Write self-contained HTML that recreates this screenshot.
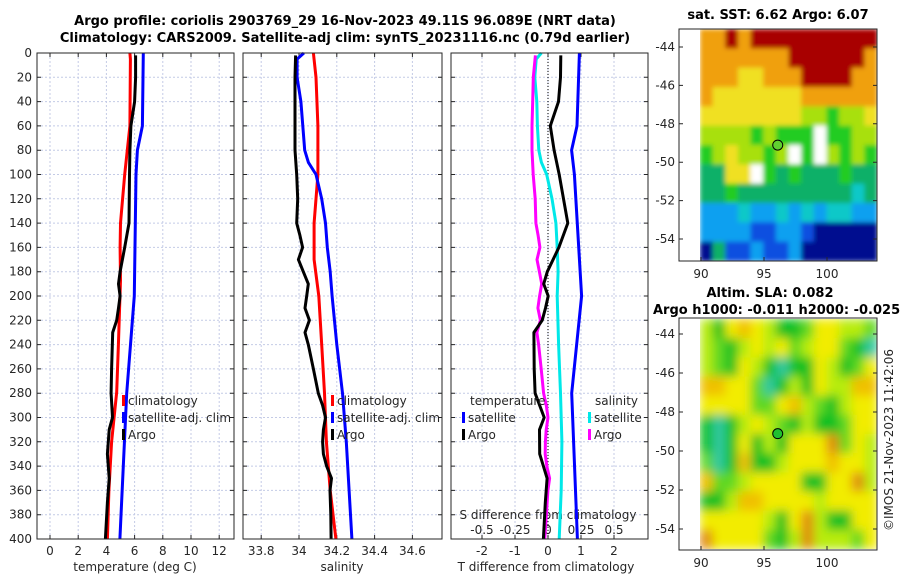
<!DOCTYPE html>
<html><head><meta charset="utf-8">
<style>
body{margin:0;background:#fff;}
svg{display:block;font-family:"DejaVu Sans","Liberation Sans",sans-serif;}
.t{font-size:12px;fill:#262626;}
.b{font-size:13px;font-weight:bold;fill:#000;}
</style></head>
<body>
<svg id="fig" width="900" height="580" viewBox="0 0 900 580">
<defs>
<filter id="blurS" x="0" y="0" width="1" height="1"><feGaussianBlur stdDeviation="2.5" edgeMode="duplicate"/></filter>
<filter id="blurA" x="0" y="0" width="1" height="1"><feGaussianBlur stdDeviation="5" edgeMode="duplicate"/></filter>
<clipPath id="clipS"><rect x="700" y="29" width="177" height="232"/></clipPath>
<clipPath id="clipA"><rect x="700" y="319" width="177" height="230"/></clipPath>
</defs>
<text class="b" x="345" y="25" text-anchor="middle">Argo profile: coriolis 2903769_29 16-Nov-2023 49.11S 96.089E (NRT data)</text>
<text class="b" x="345" y="42" text-anchor="middle">Climatology: CARS2009. Satellite-adj clim: synTS_20231116.nc (0.79d earlier)</text>
<text class="b" x="778" y="19" text-anchor="middle">sat. SST: 6.62 Argo: 6.07</text>
<text class="b" x="770" y="297" text-anchor="middle">Altim. SLA: 0.082</text>
<text class="b" x="653" y="314">Argo h1000: -0.011 h2000: -0.025</text>
<text class="t" transform="translate(893,440) rotate(-90)" text-anchor="middle">©IMOS 21-Nov-2023 11:42:06</text>
<g clip-path="url(#clipS)"><g id="sstg" filter="url(#blurS)"></g></g>
<g clip-path="url(#clipA)"><g id="slag" filter="url(#blurA)"></g></g>
<g id="g"></g>
</svg>
<script>
// ---- profile data ----
const tClimDepth=[0,5,60,100,140,160,187,240,279,320,360,400];
const tClim=[5.67,5.7,5.67,5.3,5.0,4.97,5.0,4.85,4.73,4.37,4.18,4.07];
const tSatDepth=[0,60,80,100,200,280,400];
const tSat=[6.62,6.55,6.2,6.1,5.98,5.44,4.96];
const tArgoDepth=[2,20,40,60,80,100,140,160,180,190,200,210,220,230,260,280,300,310,330,350,370,400];
const tArgo=[6.07,6.07,6.0,5.74,5.67,5.64,5.6,5.3,4.97,4.86,4.97,4.86,4.73,4.45,4.37,4.33,4.43,4.2,4.07,4.2,4.07,3.93];
const sClimDepth=[0,20,60,100,140,170,200,240,280,320,360,400];
const sClim=[34.076,34.09,34.1,34.1,34.08,34.08,34.105,34.12,34.135,34.145,34.165,34.195];
const sSatDepth=[0,5,20,40,60,80,90,100,120,140,160,180,200,240,280,320,360,400];
const sSat=[34.026,33.99,33.99,34.01,34.02,34.03,34.05,34.09,34.12,34.14,34.15,34.165,34.175,34.2,34.23,34.25,34.265,34.28];
const sArgoDepth=[2,20,40,60,80,100,120,140,150,160,170,180,190,200,210,220,230,240,260,280,290,300,310,320,330,340,350,360,380,400];
const sArgo=[33.982,33.979,33.979,33.979,33.979,33.988,33.993,33.988,34.005,34.019,33.997,34.023,34.049,34.041,34.032,34.055,34.032,34.049,34.076,34.102,34.125,34.14,34.129,34.125,34.129,34.146,34.172,34.164,34.168,34.17];
const depthTicks=[0,20,40,60,80,100,120,140,160,180,200,220,240,260,280,300,320,340,360,380,400];
const tTicks=[0,2,4,6,8,10,12];
const sTicks=[33.8,34,34.2,34.4,34.6];
const dTTicks=[-2,-1,0,1,2];
const dSTicks=[-0.5,-0.25,0,0.25,0.5];
const dSTickLabels=["-0.5","-0.25","0","0.25","0.5"];
// ---- map data (SST colour class 0-9; SLA class 0-6) ----
const sstRows=["88989999999999","88888889999998","88877888999988","87777777888888","77777777665667","66665655505566","56766560556565","44774545444544","44544444444434","22232232323322","22221122100000","04112112000000"];
const sstMissing=[[5,9],[6,7],[6,9],[7,4]];
const slaRows=["31454311244332","32134342344210","32143101143124","55442013143355","44442245321344","10134321311244","10141314446243","20151134445443","52234444114463","11355444434444","44444314631144","64444213633324"];
const floatLon=96.089, floatLat=-49.11;
const lonTicks=[90,95,100];
const latTicks=[-44,-46,-48,-50,-52,-54];

// ---- axis functions ----
const yD=d=>53+d*1.215;
const xT=v=>50+14.1*v;
const xS=s=>299+189*(s-34);
const xDT=v=>548+33*v;
const xDS=v=>548+132*v;
const xLon=l=>701+12.6*(l-90);
const ySST=l=>47+19.2*(-44-l);
const ySLA=l=>334+19.5*(-44-l);

const NS="http://www.w3.org/2000/svg";
const G=document.getElementById('g');
function mk(tag,at,parent){const e=document.createElementNS(NS,tag);for(const k in at)e.setAttribute(k,at[k]);(parent||G).appendChild(e);return e;}
function interp(ds,vs,d){if(d<=ds[0])return vs[0];for(let i=1;i<ds.length;i++){if(d<=ds[i]){const f=(d-ds[i-1])/(ds[i]-ds[i-1]);return vs[i-1]+f*(vs[i]-vs[i-1]);}}return vs[vs.length-1];}

const panels=[{x0:37,x1:234,name:'temperature'},{x0:243,x1:442,name:'salinity'},{x0:451,x1:648,name:'difference'}];
const Y0=53,Y1=539;
panels.forEach((p,pi)=>{
  let grid;
  if(pi==0)grid=tTicks.map(xT);else if(pi==1)grid=sTicks.map(xS);else grid=dTTicks.map(xDT);
  grid.forEach(x=>{const l=mk('line',{x1:x,x2:x,y1:Y0,y2:Y1,stroke:'#c4cbe6','stroke-width':1,'stroke-dasharray':'2,2'});
    
    });
  depthTicks.forEach(d=>{const y=yD(d);
    const l=mk('line',{x1:p.x0,x2:p.x1,y1:y,y2:y,stroke:'#c4cbe6','stroke-width':1,'stroke-dasharray':'2,2'});
    
    
    const a=mk('path',{d:`M${p.x0},${y}h4M${p.x1},${y}h-4`,stroke:'#262626','stroke-width':1});
    
    
  });
  grid.forEach(x=>{const a=mk('path',{d:`M${x},${Y1}v-4M${x},${Y0}v4`,stroke:'#262626','stroke-width':1});
    
    });
});
depthTicks.forEach(d=>{const t=mk('text',{x:32,y:yD(d)+4,'text-anchor':'end',class:'t'});t.textContent=d;
  
  });
tTicks.forEach(v=>{const t=mk('text',{x:xT(v),y:555,'text-anchor':'middle',class:'t'});t.textContent=v;
  
  });
sTicks.forEach(v=>{const t=mk('text',{x:xS(v),y:555,'text-anchor':'middle',class:'t'});t.textContent=String(v);
  
  });
dTTicks.forEach(v=>{const t=mk('text',{x:xDT(v),y:555,'text-anchor':'middle',class:'t'});t.textContent=String(v);
  
  });
dSTicks.forEach((v,i)=>{const t=mk('text',{x:xDS(v),y:534,'text-anchor':'middle',class:'t'});t.textContent=dSTickLabels[i];
  
  });
[['temperature (deg C)',135,'temperature-axis-title'],['salinity',342,'salinity-axis-title'],['T difference from climatology',546,'t-diff-axis-title']].forEach(a=>{
  const t=mk('text',{x:a[1],y:571,'text-anchor':'middle',class:'t'});t.textContent=a[0];
  
  });
{const t=mk('text',{x:548,y:519,'text-anchor':'middle',class:'t'});t.textContent='S difference from climatology';
  
  }
{const l=mk('line',{x1:xDT(0),x2:xDT(0),y1:Y0,y2:Y1,stroke:'#000','stroke-width':1,'stroke-dasharray':'1,2'});
  
  }

function series(ds,vs,xf,color,name){
  const pts=ds.map((d,i)=>xf(vs[i]).toFixed(1)+','+yD(d).toFixed(1)).join(' ');
  const l=mk('polyline',{points:pts,fill:'none',stroke:color,'stroke-width':3,'stroke-linejoin':'round'});
  
  
}
series(tClimDepth,tClim,xT,'#f00','temperature-climatology-line');
series(tSatDepth,tSat,xT,'#00f','temperature-satellite-line');
series(tArgoDepth,tArgo,xT,'#000','temperature-argo-line');
series(sClimDepth,sClim,xS,'#f00','salinity-climatology-line');
series(sSatDepth,sSat,xS,'#00f','salinity-satellite-line');
series(sArgoDepth,sArgo,xS,'#000','salinity-argo-line');
series(sSatDepth,sSat.map((v,i)=>v-interp(sClimDepth,sClim,sSatDepth[i])),xDS,'#00e8e8','s-diff-satellite-line');
series(tSatDepth,tSat.map((v,i)=>v-interp(tClimDepth,tClim,tSatDepth[i])),xDT,'#00f','t-diff-satellite-line');
series(sArgoDepth,sArgo.map((v,i)=>v-interp(sClimDepth,sClim,sArgoDepth[i])),xDS,'#f0f','s-diff-argo-line');
series(tArgoDepth,tArgo.map((v,i)=>v-interp(tClimDepth,tClim,tArgoDepth[i])),xDT,'#000','t-diff-argo-line');

panels.forEach(p=>{const r=mk('rect',{x:p.x0,y:Y0,width:p.x1-p.x0,height:Y1-Y0,fill:'none',stroke:'#262626','stroke-width':1});
  
  });

function legend(x,y,color,label,name){
  const r=mk('rect',{x:x,y:y-10,width:3,height:11,fill:color});
  
  
  const t=mk('text',{x:x+6,y:y,class:'t'});t.textContent=label;
  
  
}
legend(122,405,'#f00','climatology','legend-temp-climatology');
legend(122,422,'#00f','satellite-adj. clim','legend-temp-satellite');
legend(122,439,'#000','Argo','legend-temp-argo');
legend(331,405,'#f00','climatology','legend-sal-climatology');
legend(331,422,'#00f','satellite-adj. clim','legend-sal-satellite');
legend(331,439,'#000','Argo','legend-sal-argo');
{const t=mk('text',{x:470,y:405,class:'t'});t.textContent='temperature';
  
  
 const t2=mk('text',{x:595,y:405,class:'t'});t2.textContent='salinity';
  
  }
legend(462,422,'#00f','satellite','legend-tdiff-satellite');
legend(462,439,'#000','Argo','legend-tdiff-argo');
legend(588,422,'#00e8e8','satellite','legend-sdiff-satellite');
legend(588,439,'#f0f','Argo','legend-sdiff-argo');

// maps
const sstPal=['#00108f','#1050e0','#10a0f0','#10c8c8','#10b068','#20cc20','#a8e010','#f0e020','#f0a010','#a80000'];
const slaPal=['#30c8a0','#10c020','#60d820','#b8ec10','#f2ec00','#f0c000','#e08a10'];
function drawMap(rows,pal,top,bottom,name,missing,parent){
  const nr=rows.length,nc=rows[0].length,cw=(877-700)/nc,rh=(bottom-top)/nr;
  rows.forEach((row,r)=>{for(let c=0;c<nc;c++){
    let col=pal[+row[c]];
    if(missing&&missing.some(m=>m[0]==r&&m[1]==c))col='#fff';
    const e=mk('rect',{x:(700+c*cw).toFixed(2),y:(top+r*rh).toFixed(2),width:(cw+0.6).toFixed(2),height:(rh+0.6).toFixed(2),fill:col},parent);
    
    
  }});
}
drawMap(sstRows,sstPal,29,261,'sst-map',sstMissing,document.getElementById('sstg'));
drawMap(slaRows,slaPal,319,549,'sla-map',null,document.getElementById('slag'));
[[ySST,29,261,'sst-map'],[ySLA,318,550,'sla-map']].forEach(m=>{
  const yf=m[0];
  const fr=mk('rect',{x:679,y:m[1],width:198,height:m[2]-m[1],fill:'none',stroke:'#262626','stroke-width':1});
  
  
  latTicks.forEach(l=>{const y=yf(l);
    const a=mk('path',{d:`M679,${y}h4M877,${y}h-4`,stroke:'#262626'});
    
    
    const t=mk('text',{x:675,y:y+4,'text-anchor':'end',class:'t'});t.textContent=String(l);
    
    });
  lonTicks.forEach(l=>{const x=xLon(l);
    const a=mk('path',{d:`M${x},${m[2]}v-4`,stroke:'#262626'});
    
    
    const t=mk('text',{x:x,y:m[2]+17,'text-anchor':'middle',class:'t'});t.textContent=l;
    
    });
  const c=mk('circle',{cx:xLon(floatLon),cy:yf(floatLat),r:5,fill:m[3]=='sst-map'?'#60d030':'#20c030',stroke:'#000','stroke-width':1});
  
  
});
</script>
</body></html>
